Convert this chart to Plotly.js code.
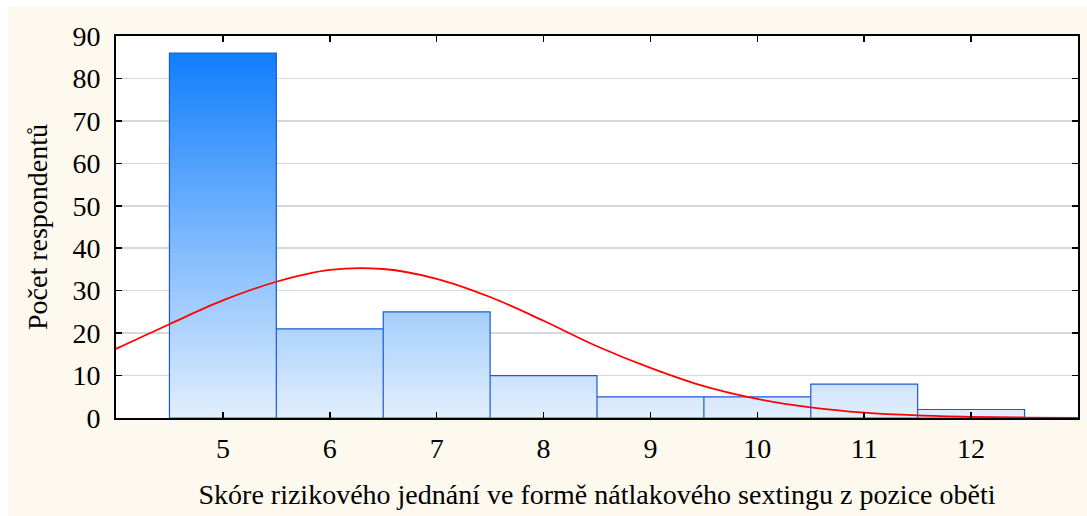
<!DOCTYPE html>
<html>
<head>
<meta charset="utf-8">
<script src="https://cdn.plot.ly/plotly-3.0.1.min.js"></script>
<style>
html, body { margin: 0; padding: 0; background: #ffffff; }
#chart { position: absolute; left: 8px; top: 7px; width: 1079px; height: 509px; }
</style>
</head>
<body>
<div id="chart"></div>
<script>
// Histogram bins (score) and counts
const scores = [5, 6, 7, 8, 9, 10, 11, 12];
const counts = [86, 21, 25, 10, 5, 5, 8, 2];

// Fitted normal curve
const curveX = [4, 4.5, 5, 5.5, 6, 6.5, 7, 7.5, 8, 8.5, 9, 9.5, 10, 10.5, 11, 11.5, 12, 12.5, 13];
const curveY = [16.3, 22.1, 27.7, 32.1, 34.9, 35.1, 32.8, 28.5, 22.9, 16.9, 11.8, 7.5, 4.5, 2.5, 1.25, 0.6, 0.27, 0.11, 0.04];

const yTicks = [0, 10, 20, 30, 40, 50, 60, 70, 80, 90];

const xTitle = 'Skóre rizikového jednání ve formě nátlakového sextingu z pozice oběti';
const yTitle = 'Počet respondentů';

// Build bar outline polygon from bins
const px = [], py = [];
scores.forEach((s, i) => {
  px.push(s - 0.5, s - 0.5, s + 0.5, s + 0.5);
  py.push(0, counts[i], counts[i], 0);
});
px.push(scores[0] - 0.5); py.push(0);

const font = 'Liberation Serif';
const fs = 28;

const traces = [
  {
    type: 'scatter', mode: 'lines', x: px, y: py,
    fill: 'toself',
    fillgradient: {
      type: 'vertical',
      start: 0, stop: Math.max(...counts),
      colorscale: [[0, 'rgb(226,239,254)'], [1, 'rgb(16,126,252)']]
    },
    line: { color: '#1c5ad4', width: 1.2 },
    hoverinfo: 'skip', showlegend: false
  },
  {
    type: 'scatter', mode: 'lines', x: curveX, y: curveY,
    line: { color: '#ff0000', width: 1.8, shape: 'spline', smoothing: 1 },
    showlegend: false
  }
];

const layout = {
  width: 1079, height: 509,
  paper_bgcolor: '#fdf9ef',
  plot_bgcolor: '#ffffff',
  margin: { l: 108, r: 9, t: 29, b: 98 },
  font: { family: font, size: fs, color: '#000000' },
  xaxis: {
    range: [4, 13],
    tickvals: scores, ticktext: scores.map(String),
    ticks: 'inside', ticklen: 6, tickwidth: 1.5, tickcolor: '#000',
    showline: true, linecolor: '#000', linewidth: 2, mirror: 'ticks',
    showgrid: false, zeroline: false,
    tickfont: { family: font, size: fs },
    ticklabelstandoff: 4,
    title: { text: xTitle, font: { family: font, size: fs }, standoff: 22 }
  },
  yaxis: {
    range: [0, 90],
    tickvals: yTicks,
    ticks: 'inside', ticklen: 6, tickwidth: 1.5, tickcolor: '#000',
    showline: true, linecolor: '#000', linewidth: 2, mirror: 'ticks',
    showgrid: true, gridcolor: '#d8d8d8', gridwidth: 1.5, zeroline: false,
    tickfont: { family: font, size: fs },
    ticklabelstandoff: 8,
    title: { text: yTitle, font: { family: font, size: fs }, standoff: 17 }
  },
  showlegend: false
};

Plotly.newPlot('chart', traces, layout, { displayModeBar: false, staticPlot: true });
</script>
</body>
</html>
